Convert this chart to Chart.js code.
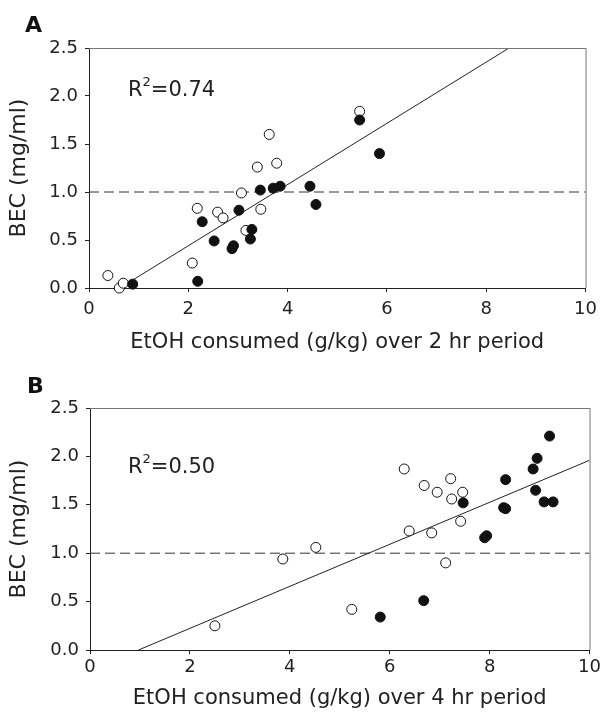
<!DOCTYPE html>
<html>
<head>
<meta charset="utf-8">
<script src="https://cdn.jsdelivr.net/npm/chart.js@4.4.1/dist/chart.umd.min.js"></script>
<style>
  body { margin: 0; background: #fff; }
  canvas { position: absolute; left: 0; }
  #chartA { top: 0; }
  #chartB { top: 357px; }
</style>
</head>
<body>
<canvas id="chartA" width="604" height="357"></canvas>
<canvas id="chartB" width="604" height="358"></canvas>
<script>
// Panel A - 2 hr period
const openAx = [0.38, 0.61, 0.69, 2.08, 2.18, 2.59, 2.70, 3.07, 3.16, 3.39, 3.46, 3.63, 3.78, 5.45];
const openAy = [0.13, 0.00, 0.05, 0.26, 0.83, 0.79, 0.73, 0.99, 0.60, 1.26, 0.82, 1.60, 1.30, 1.84];
const filledAx = [0.88, 2.19, 2.28, 2.52, 2.88, 2.91, 3.02, 3.25, 3.28, 3.45, 3.71, 3.85, 4.45, 4.57, 5.45, 5.85];
const filledAy = [0.04, 0.07, 0.69, 0.49, 0.41, 0.44, 0.81, 0.51, 0.61, 1.02, 1.04, 1.06, 1.06, 0.87, 1.75, 1.40];
const fitAx = [0.62, 8.46];
const fitAy = [0, 2.5];

// Panel B - 4 hr period
const openBx = [2.50, 3.86, 4.52, 5.24, 6.29, 6.39, 6.69, 6.84, 6.95, 7.12, 7.22, 7.24, 7.42, 7.46];
const openBy = [0.25, 0.94, 1.06, 0.42, 1.87, 1.23, 1.70, 1.21, 1.63, 0.90, 1.77, 1.56, 1.33, 1.63];
const filledBx = [5.81, 6.68, 7.47, 7.90, 7.94, 8.28, 8.32, 8.32, 8.87, 8.92, 8.95, 9.09, 9.27, 9.20];
const filledBy = [0.34, 0.51, 1.52, 1.16, 1.18, 1.47, 1.46, 1.76, 1.87, 1.65, 1.98, 1.53, 1.53, 2.21];
const fitBx = [0.97, 10];
const fitBy = [0, 1.96];

// dashed 1.0 mg/ml reference
const refX = [0, 10];
const refY = [1, 1];

const FONT = 'DejaVu Sans';

function pts(xs, ys) {
  return xs.map((x, i) => ({ x: x, y: ys[i] }));
}

// top/right frame, panel letter and R^2 label
const panelText = {
  id: 'panelText',
  afterDraw(chart, args, opts) {
    const ctx = chart.ctx, a = chart.chartArea;
    ctx.save();
    ctx.strokeStyle = '#777';
    ctx.lineWidth = 1;
    ctx.beginPath();
    ctx.moveTo(a.left, a.top + 0.5);
    ctx.lineTo(a.right + 0.5, a.top + 0.5);
    ctx.lineTo(a.right + 0.5, a.bottom);
    ctx.stroke();

    ctx.fillStyle = '#111';
    ctx.textBaseline = 'alphabetic';
    ctx.font = 'bold 22px ' + FONT;
    ctx.fillText(opts.letter, opts.letterX, opts.letterY);

    ctx.fillStyle = '#222';
    ctx.font = '21px ' + FONT;
    ctx.fillText('R', opts.rx, opts.ry);
    let w = ctx.measureText('R').width;
    ctx.font = '13px ' + FONT;
    ctx.fillText('2', opts.rx + w, opts.ry - 10);
    w += ctx.measureText('2').width;
    ctx.font = '21px ' + FONT;
    ctx.fillText('=' + opts.r2, opts.rx + w, opts.ry);
    ctx.restore();
  }
};

function makePanel(id, d) {
  return new Chart(document.getElementById(id), {
    type: 'scatter',
    plugins: [panelText],
    data: {
      datasets: [
        { label: 'filled', data: pts(d.filledX, d.filledY), backgroundColor: '#111', borderColor: '#111',
          borderWidth: 1, pointRadius: 5, pointHoverRadius: 5, clip: false },
        { label: 'open', data: pts(d.openX, d.openY), backgroundColor: '#fff', borderColor: '#111',
          borderWidth: 1, pointRadius: 5, pointHoverRadius: 5, clip: false },
        { label: 'fit', data: pts(d.fitX, d.fitY), showLine: true, borderColor: '#222', borderWidth: 1,
          pointRadius: 0 },
        { label: '1.0 mg/ml', data: pts(refX, refY), showLine: true, borderColor: '#333', borderWidth: 1,
          borderDash: [10, 5], pointRadius: 0 }
      ]
    },
    options: {
      responsive: false,
      animation: false,
      events: [],
      layout: { padding: { left: 0, top: d.top, right: d.right, bottom: 0 } },
      plugins: {
        legend: { display: false },
        tooltip: { enabled: false },
        panelText: d.text
      },
      scales: {
        x: {
          type: 'linear', min: 0, max: 10,
          afterFit: s => { s.height = d.xHeight; },
          ticks: { stepSize: 2, padding: d.xTickPad, color: '#222', font: { family: FONT, size: 18 } },
          grid: { drawOnChartArea: false, tickLength: 4, tickColor: '#222' },
          border: { color: '#222' },
          title: {
            display: true, text: d.xTitle, color: '#222',
            font: { family: FONT, size: 21 },
            padding: { top: 0, bottom: d.xTitlePad }
          }
        },
        y: {
          type: 'linear', min: 0, max: 2.5,
          afterFit: s => { s.width = d.yWidth; },
          ticks: { stepSize: 0.5, padding: 7, color: '#222', font: { family: FONT, size: 18 },
                   callback: v => v.toFixed(1) },
          grid: { drawOnChartArea: false, tickLength: 4, tickColor: '#222' },
          border: { color: '#222' },
          title: {
            display: true, text: 'BEC (mg/ml)', color: '#222',
            font: { family: FONT, size: 22 },
            padding: { top: 6, bottom: 0 }
          }
        }
      }
    }
  });
}

makePanel('chartA', {
  openX: openAx, openY: openAy, filledX: filledAx, filledY: filledAy, fitX: fitAx, fitY: fitAy,
  xTitle: 'EtOH consumed (g/kg) over 2 hr period',
  top: 48, right: 15, yWidth: 89, xHeight: 69, xTickPad: 7, xTitlePad: 2,
  text: { letter: 'A', letterX: 25, letterY: 32, rx: 128, ry: 96, r2: '0.74' }
});

makePanel('chartB', {
  openX: openBx, openY: openBy, filledX: filledBx, filledY: filledBy, fitX: fitBx, fitY: fitBy,
  xTitle: 'EtOH consumed (g/kg) over 4 hr period',
  top: 51, right: 12, yWidth: 90, xHeight: 65, xTickPad: 3, xTitlePad: 4,
  text: { letter: 'B', letterX: 27, letterY: 36, rx: 128, ry: 116, r2: '0.50' }
});
</script>
</body>
</html>
